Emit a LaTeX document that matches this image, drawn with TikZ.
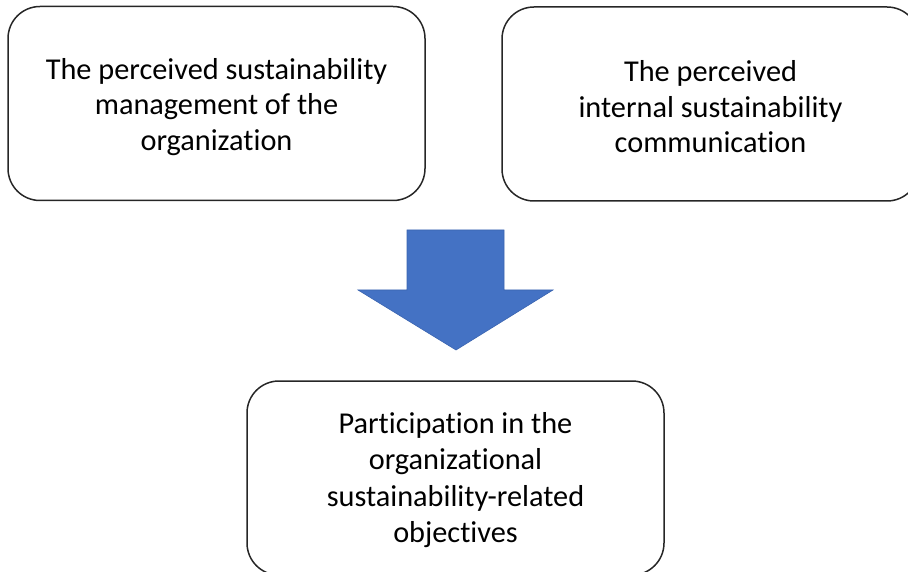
\documentclass[tikz,border=0pt]{standalone}
\usepackage{fontspec}
\setmainfont{Carlito}[Ligatures={NoCommon}]
\definecolor{arrowblue}{HTML}{4472C4}
\definecolor{arrowedge}{HTML}{3A64B0}
\begin{document}
\begin{tikzpicture}[x=1pt,y=-1pt,
  box/.style={draw=black!85,line width=1.5pt,rounded corners=32pt,minimum width=417pt,minimum height=194pt,inner sep=0pt},
  boxtext/.style={align=center,font=\fontsize{30.3}{35.5}\selectfont,inner sep=0pt},
  bigarrow/.style={fill=arrowblue,draw=arrowedge,line width=0.6pt}]
\useasboundingbox (0,0) rectangle (908,572);
\clip (0,0) rectangle (908,572);
\node[box] (mgmt) at (216.5,103.5) {};
\node[box] (comm) at (710.5,104) {};
\node[box] (part) at (455.5,478) {};
\node[boxtext] (mgmtT) at ([yshift=-3.5pt]mgmt.center) {The perceived sustainability\\management of the\\organization};
\node[boxtext] (commT) at ([yshift=-3pt]comm.center) {The perceived\\internal sustainability\\communication};
\node[boxtext,font=\fontsize{30.3}{36.2}\selectfont] (partT) at ([yshift=-2pt]part.center) {Participation in the\\organizational\\sustainability-related\\objectives};
\coordinate (tip) at (456,350);
\draw[bigarrow] (407,230) -- (504,230) -- (504,290) -- (553,290) -- (tip) -- (358,290) -- (407,290) -- cycle;
\end{tikzpicture}
\end{document}
